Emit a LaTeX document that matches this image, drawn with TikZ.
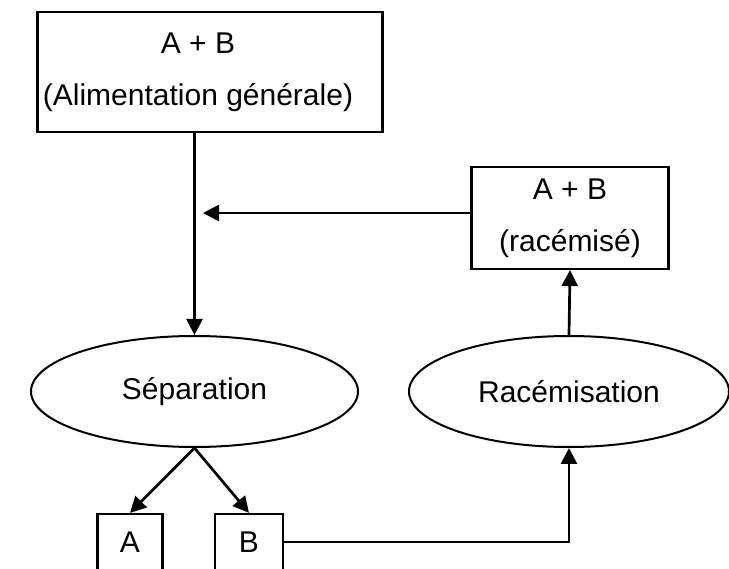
\documentclass[tikz,border=0pt]{standalone}
\usepackage{fontspec}
\setmainfont{Liberation Sans}
\usetikzlibrary{arrows.meta,shapes.geometric}

\begin{document}
\begin{tikzpicture}[
  x=1pt,y=-1pt,>={Triangle[length=16pt,width=16pt]},
  box/.style={draw,line width=2.2pt,align=center,inner sep=0pt,
    font=\fontsize{30}{52}\selectfont},
  oval/.style={draw,ellipse,line width=2pt,inner sep=0pt,
    font=\fontsize{30}{36}\selectfont},
  flow/.style={->,line width=2.7pt}
]
\clip (0,0) rectangle (729,569);
\node[box,minimum width=345pt,minimum height=120pt] (feed) at (210,72)
  {A + B\hspace*{24pt}\\(Alimentation générale)\hspace*{24pt}};
\node[box,minimum width=197pt,minimum height=102pt] (racemic) at (570,218) {A + B\\(racémisé)};
\node[oval,minimum width=327pt,minimum height=111pt] (sep) at (194.5,391.5) {Séparation};
\node[oval,minimum width=320pt,minimum height=111pt] (rac) at (569,391.5) {Racémisation};
\node[box,minimum width=65pt,minimum height=56pt] (prodA) at (130,542) {A};
\node[box,minimum width=68pt,minimum height=56pt] (prodB) at (249,542) {B};
\coordinate (join) at (203,213);
\draw[flow] (sep.north |- feed.south) -- (sep.north);
\draw[flow] (racemic.west |- join) -- (join);
\draw[flow] (rac.north) -- (racemic.south);
\draw[flow] (sep.south) -- (prodA.north);
\draw[flow] (sep.south) -- (prodB.north);
\draw[flow] (prodB.east) -| (rac.south);
\end{tikzpicture}
\end{document}
